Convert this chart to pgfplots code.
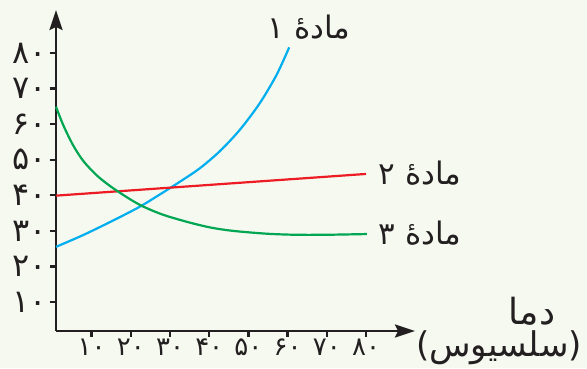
\documentclass[border=0pt]{standalone}
\usepackage{pgfplots}
\pgfplotsset{compat=1.18}
\usetikzlibrary{arrows.meta}
\usepackage{fontspec}
\TeXXeTstate=1
\newfontfamily\arabicfont[Script=Arabic]{DejaVu Sans}

\definecolor{bgc}{RGB}{245,249,239}
\definecolor{ink}{RGB}{35,31,32}
\definecolor{c1}{RGB}{0,174,239}
\definecolor{c2}{RGB}{237,28,36}
\definecolor{c3}{RGB}{0,166,81}

\begin{document}
\begin{tikzpicture}
\fill[bgc] (0,0) rectangle (587pt,368pt);
\begin{axis}[
    scale only axis,
    width=359pt, height=321pt,
    at={(56pt,37pt)}, anchor=south west,
    xmin=0.9, xmax=92.5, ymin=1.84, ymax=92.1,
    axis lines=left,
    axis line style={ink, line width=2.6pt, -{Stealth[length=20pt,width=13pt,inset=3pt]}},
    tick align=outside,
    major tick length=6pt,
    tick style={ink, line width=2.4pt},
    xtick={10,20,...,80},
    ytick={10,20,...,80},
    xticklabels={۱۰,۲۰,۳۰,۴۰,۵۰,۶۰,۷۰,۸۰},
    yticklabels={۱۰,۲۰,۳۰,۴۰,۵۰,۶۰,۷۰,۸۰},
    yticklabel style={font=\arabicfont\fontsize{32}{36}\selectfont, text=ink},
    xticklabel style={font=\arabicfont\fontsize{26}{30}\selectfont, text=ink, inner sep=2pt},
    clip=false,
]
\addplot[c1, line width=2.2pt, smooth] coordinates {
    (0.9,25.5) (8,28.9) (16,33.2) (22.3,36.8) (27.5,40.3) (32.5,43.8)
    (37.6,47.6) (42.7,52.4) (47.8,58.4) (52.9,65.9) (57.2,73.9) (60.4,81.6)
};
\addplot[c2, line width=2.2pt] coordinates {
    (0.9,39.9) (80,46.0)
};
\addplot[c3, line width=2.2pt, smooth] coordinates {
    (0.9,64.9) (2.8,59.6) (5.3,54.0) (7.9,49.6) (11.3,45.6) (14.7,42.6)
    (18.9,39.5) (22.3,37.3) (25.7,35.6) (29.1,34.2) (35.1,32.3) (40.5,30.9)
    (46,30.0) (54.6,29.2) (62,28.9) (70,28.9) (80.2,29.1)
};
\end{axis}
\begin{scope}[every node/.style={text=ink, font=\arabicfont\fontsize{31}{36}\selectfont}]
\node at (309pt,341pt) {\beginR مادهٔ ۱\endR};
\node at (420pt,195pt) {\beginR مادهٔ ۲\endR};
\node at (420pt,135pt) {\beginR مادهٔ ۳\endR};
\node[font=\arabicfont\fontsize{36}{40}\selectfont] at (532pt,57pt) {\beginR دما\endR};
\node[font=\arabicfont\fontsize{34}{40}\selectfont] at (499pt,20pt) {\beginR(سلسیوس)\endR};
\end{scope}
\useasboundingbox (0,0) rectangle (587pt,368pt);
\end{tikzpicture}
\end{document}
